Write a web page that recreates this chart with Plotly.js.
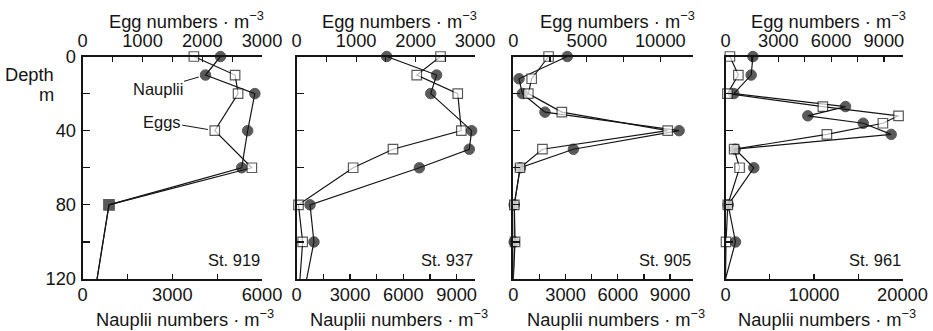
<!DOCTYPE html>
<html>
<head>
<meta charset="utf-8">
<script src="https://cdn.plot.ly/plotly-3.0.1.min.js"></script>
<style>html,body{margin:0;padding:0;background:#fff;}#chart{width:933px;height:331px;}</style>
</head>
<body>
<div id="chart"></div>
<script>
// ---- Data ----
const stations = ["St. 919", "St. 937", "St. 905", "St. 961"];

const depth919 = [0, 10, 20, 40, 60, 80, 120];
const eggs919  = [1860, 2550, 2600, 2210, 2830, 440, 240];
const naup919  = [4610, 4110, 5760, 5520, 5320, 880, 480];

const depth937 = [0, 10, 20, 40, 50, 60, 80, 100, 120];
const eggs937  = [2420, 2020, 2710, 2770, 1620, 950, 30, 100, 55];
const naup937  = [5060, 7870, 7540, 9840, 9710, 6900, 750, 970, 560];

const depth905 = [0, 12, 20, 30, 40, 50, 60, 80, 100, 120];
const eggs905  = [2400, 1250, 1020, 3300, 10500, 1980, 460, 70, 120, 0];
const naup905  = [3100, 330, 520, 1820, 9520, 3450, 400, 50, 50, 0];

const depth961 = [0, 10, 20, 27, 32, 36, 42, 50, 60, 80, 100, 120];
const eggs961  = [250, 730, 110, 5530, 9830, 8940, 5760, 490, 800, 130, 30, 0];
const naup961  = [3100, 2900, 940, 13560, 9300, 15560, 18720, 1100, 3200, 300, 1130, 0];

// axis extents / ticks
const eggMax   = [3000, 3000, 12200, 10100];
const eggDtick = [1000, 1000, 5000, 3000];
const eggMinor = [500, 500, 2500, 1500];
const naupMax   = [6000, 10030, 10300, 20090];
const naupDtick = [3000, 3000, 3000, 10000];
const naupMinor = [1500, 1500, 1500, 5000];
const depthTicks = [0, 40, 80, 120];

const eggTitle  = "Egg numbers · m<sup>−3</sup>";
const naupTitle = "Nauplii numbers · m<sup>−3</sup>";

// ---- Layout geometry ----
const W = 933, H = 331;
const px = [[82.7, 262], [296.7, 475], [513.3, 692.7], [725.5, 903.3]];
const yTop = 56.5, yBot = 279;
const ink = "#151515";
const font = "Liberation Sans, Arial, Helvetica, sans-serif";
const fs = 18.3;

const depths = [depth919, depth937, depth905, depth961];
const eggs = [eggs919, eggs937, eggs905, eggs961];
const naups = [naup919, naup937, naup905, naup961];

const data = [];
const layout = {
  width: W, height: H,
  margin: {l: 0, r: 0, t: 0, b: 0, pad: 0},
  paper_bgcolor: "#fff", plot_bgcolor: "rgba(0,0,0,0)",
  showlegend: false, separators: ".",
  font: {family: font, size: fs, color: ink},
  annotations: []
};

for (let i = 0; i < 4; i++) {
  const xb = 2 * i + 1, xt = 2 * i + 2, yi = i + 1;
  const xbName = "x" + (xb === 1 ? "" : xb), xtName = "x" + xt, yName = "y" + (yi === 1 ? "" : yi);
  const dom = [px[i][0] / W, px[i][1] / W];
  const d = depths[i];
  const both = d.map(v => i === 0 && v === 80); // coincident points drawn as one filled square
  const sizesC = d.map((v, k) => (v === 120 || both[k]) ? 0 : 10.5);
  const sizesS = d.map((v, k) => v === 120 ? 0 : (both[k] ? 10.5 : 9.5));
  const sqFill = both.map(b => b ? ink : "#fff");

  data.push({
    type: "scatter", mode: "lines+markers", name: "Nauplii",
    x: naups[i], y: d, xaxis: xbName, yaxis: yName, cliponaxis: false,
    line: {color: ink, width: 1.2},
    marker: {symbol: "circle", size: sizesC, color: ink, line: {color: ink, width: 1}}
  });
  data.push({
    type: "scatter", mode: "lines+markers", name: "Eggs",
    x: eggs[i], y: d, xaxis: xtName, yaxis: yName, cliponaxis: false,
    line: {color: ink, width: 1.2},
    marker: {symbol: "square", size: sizesS, color: sqFill, line: {color: ink, width: 1.2}}
  });

  const common = {
    showgrid: false, zeroline: false, showline: true, linecolor: ink, linewidth: 2,
    ticks: "inside", ticklen: 5, tickwidth: 1.2, tickcolor: ink, exponentformat: "none",
    separatethousands: false, tickformat: "d",
    tickfont: {family: font, size: fs, color: ink}, fixedrange: true
  };
  layout["xaxis" + (xb === 1 ? "" : xb)] = Object.assign({}, common, {
    domain: dom, anchor: yName, side: "bottom", range: [0, naupMax[i]],
    tick0: 0, dtick: naupDtick[i], ticklabelstandoff: -2,
    minor: {tick0: 0, dtick: naupMinor[i], ticks: "inside", ticklen: 5, tickwidth: 1.2, tickcolor: ink}
  });
  layout["xaxis" + xt] = Object.assign({}, common, {
    overlaying: xbName, anchor: yName, side: "top", range: [0, eggMax[i]],
    tick0: 0, dtick: eggDtick[i], ticklabelstandoff: 0,
    minor: {tick0: 0, dtick: eggMinor[i], ticks: "inside", ticklen: 5, tickwidth: 1.2, tickcolor: ink}
  });
  layout["yaxis" + (yi === 1 ? "" : yi)] = Object.assign({}, common, {
    domain: [1 - yBot / H, 1 - yTop / H], anchor: xbName, range: [120, 0],
    tickvals: depthTicks, ticklen: 7, showticklabels: i === 0, ticklabelstandoff: 1,
    minor: {tickvals: [20, 60, 100], ticks: "inside", ticklen: 7, tickwidth: 1.2, tickcolor: ink}
  });

  // axis titles (slightly right of centre, as in the original)
  layout.annotations.push({
    text: eggTitle, xref: xbName + " domain", x: 0.5, xshift: 14, xanchor: "center",
    yref: "paper", y: 1 - 20 / H, yanchor: "middle", showarrow: false,
    font: {family: font, size: fs, color: ink}
  });
  layout.annotations.push({
    text: naupTitle, xref: xbName + " domain", x: 0.5, xshift: 13, xanchor: "center",
    yref: "paper", y: 1 - 318 / H, yanchor: "middle", showarrow: false,
    font: {family: font, size: fs, color: ink}
  });
  // station label
  layout.annotations.push({
    text: stations[i], xref: xbName + " domain", x: 1, xanchor: "right",
    yref: yName, y: 110, yanchor: "middle", showarrow: false,
    font: {family: font, size: 16.5, color: ink}
  });
}

// Depth label
layout.annotations.push({text: "Depth", xref: "paper", yref: "paper", x: 56 / W, xanchor: "right",
  y: 1 - 74 / H, yanchor: "middle", showarrow: false, font: {family: font, size: fs, color: ink}});
layout.annotations.push({text: "m", xref: "paper", yref: "paper", x: 56 / W, xanchor: "right",
  y: 1 - 95 / H, yanchor: "middle", showarrow: false, font: {family: font, size: fs, color: ink}});

// series labels with leader lines (St. 919)
const narrow = "Liberation Sans Narrow, Arial Narrow, Liberation Sans, sans-serif";
layout.annotations.push({text: "Nauplii", xref: "x", yref: "y", x: naup919[1], y: depth919[1],
  ax: -48, ay: 14, axref: "pixel", ayref: "pixel", showarrow: true, arrowhead: 0, arrowwidth: 1,
  arrowcolor: ink, standoff: 7, font: {family: narrow, size: 16.5, color: ink}});
layout.annotations.push({text: "Eggs", xref: "x2", yref: "y", x: eggs919[3], y: depth919[3],
  ax: -53, ay: -9, axref: "pixel", ayref: "pixel", showarrow: true, arrowhead: 0, arrowwidth: 1,
  arrowcolor: ink, standoff: 7, font: {family: narrow, size: 16.5, color: ink}});

Plotly.newPlot("chart", data, layout, {staticPlot: true, displayModeBar: false});
</script>
</body>
</html>
